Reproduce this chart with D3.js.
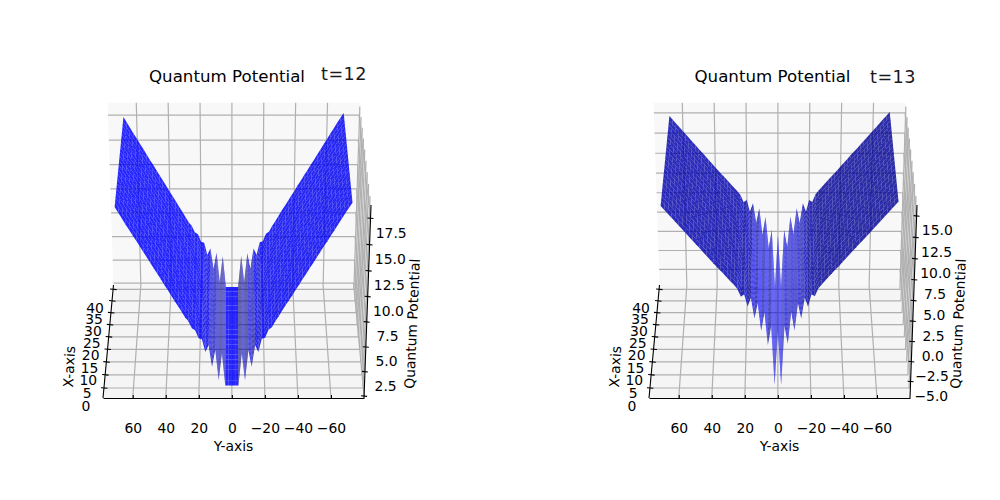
<!DOCTYPE html>
<html>
<head>
<meta charset="utf-8">
<script src="https://cdnjs.cloudflare.com/ajax/libs/d3/7.8.5/d3.min.js"></script>
<style>
html,body{margin:0;padding:0;background:#fff}
svg{display:block}
text{font-family:"DejaVu Sans",sans-serif;fill:#000}
</style>
</head>
<body>
<svg id="fig" width="1000" height="500"></svg>
<script>
// Surface samples: potential against Y at a fixed step, constant along X.
const yGrid = [68,66,64,62,60,58,56,54,52,50,48,46,44,42,40,38,36,34,32,30,28,26,24,22,20,18,16,14,12,10,8,6,4,2,0,
  -2,-4,-6,-8,-10,-12,-14,-16,-18,-20,-22,-24,-26,-28,-30,-32,-34,-36,-38,-40,-42,-44,-46,-48,-50,-52,-54,-56,-58,-60,-62,-64,-66,-68,-70];
const xGrid = [0,2,4,6,8,10,12,14,16,18,20,22,24,26,28,30,32,34,36,38,40];

const potentialT12 = [17.7,17.15,16.6,16.05,15.55,15.0,14.5,13.95,13.4,12.9,12.35,11.8,11.3,10.75,10.2,9.7,9.15,8.6,8.1,7.55,7.0,6.6,5.9,5.7,4.9,4.8,3.5,4.2,2.0,3.75,0.6,3.4,0.05,0.05,0.05,
  0.05,0.05,3.4,0.6,3.7,2.0,4.2,3.5,4.85,4.95,5.75,6.0,6.6,7.1,7.65,8.2,8.7,9.2,9.75,10.25,10.8,11.3,11.85,12.35,12.9,13.4,13.95,14.45,15.0,15.5,16.05,16.55,17.1,17.6,18.1];
const potentialT13 = [15.1,14.65,14.2,13.75,13.3,12.85,12.4,11.95,11.5,11.05,10.6,10.15,9.7,9.25,8.8,8.35,7.9,7.5,7.05,6.6,6.15,5.75,5.25,4.3,4.6,3.1,4.2,1.65,3.55,0.1,2.45,-1.65,0.75,-6.7,0.1,
  -6.7,0.75,-1.5,2.5,0.15,3.55,1.65,4.2,3.1,4.6,4.35,5.3,5.8,6.25,6.7,7.15,7.6,8.0,8.45,8.9,9.35,9.8,10.25,10.7,11.1,11.55,12.0,12.45,12.9,13.35,13.8,14.25,14.7,15.15,15.6];

const xTicks = [0,5,10,15,20,25,30,35,40];
const yTicks = [60,40,20,0,-20,-40,-60];
const zTicksT12 = [0,2.5,5,7.5,10,12.5,15,17.5];
const zLabelsT12 = [2.5,5,7.5,10,12.5,15,17.5];
const zTicksT13 = [-5,-2.5,0,2.5,5,7.5,10,12.5,15];
const zLabelsT13 = zTicksT13;

const svg = d3.select("#fig");

// Box coordinates (depth 0..1, height 0..1) and the perspective of the view.
const depth = d3.scaleLinear().domain([-3.74,41.9]).range([0,1]);
const frontY = d3.scaleLinear().domain([78,-80]).range([103,364]);
const midX = 233.5, floorPx = 398;

function projector(height){
  const pt = (u,sx,w)=>{
    const d = 1 + 0.0875*u - 0.051*w;
    return [midX + (sx-midX)/d, (floorPx - 88.1*u - 203.5*w)/d];
  };
  return {
    data:(x,y,z)=>pt(depth(x),frontY(y),height(z)),
    box:pt
  };
}

const tickFmt = d3.format(".1f");
const pathOf = d3.line();

function drawPanel(cfg){
  const g = svg.append("g").attr("transform",`translate(${cfg.dx},0)`);
  const height = d3.scaleLinear().domain(cfg.zDomain).range([0,1]);
  const P = projector(height);
  const L = frontY(78), R = frontY(-80);
  const poly = pts => pathOf(pts)+"Z";

  // panes
  g.append("path").attr("d",poly([P.box(1,L,0),P.box(1,R,0),P.box(1,R,1),P.box(1,L,1)])).attr("fill","#f8f8f8");
  g.append("path").attr("d",poly([P.box(0,L,0),P.box(0,R,0),P.box(1,R,0),P.box(1,L,0)])).attr("fill","#f5f5f5");
  g.append("path").attr("d",poly([P.box(0,R,0),P.box(1,R,0),P.box(1,R,1),P.box(0,R,1)])).attr("fill","#f2f2f2");

  // grid lines on the three panes
  const grid = g.append("g").attr("fill","none").attr("stroke","#b0b0b0").attr("stroke-width",1.2);
  yTicks.forEach(t=>{
    const s = frontY(t);
    grid.append("path").attr("d",pathOf([P.box(0,s,0),P.box(1,s,0),P.box(1,s,1)]));
  });
  xTicks.forEach(t=>{
    const u = depth(t);
    grid.append("path").attr("d",pathOf([P.box(u,L,0),P.box(u,R,0),P.box(u,R,1)]));
  });
  cfg.zTicks.forEach(t=>{
    const w = height(t);
    grid.append("path").attr("d",pathOf([P.box(1,L,w),P.box(1,R,w),P.box(0,R,w)]));
  });

  // surface quads, far rows first
  const bright = d3.scaleLinear().domain(cfg.slopeIn).range(cfg.brightOut).clamp(true);
  const alpha = d3.scaleLinear().domain([0.3,1.5]).range([cfg.alphaFlat,cfg.alphaSteep]).clamp(true);
  const surf = g.append("g").attr("stroke","none");
  for(let r=xGrid.length-2;r>=0;r--){
    for(let c=0;c<yGrid.length-1;c++){
      const y0=yGrid[c], y1=yGrid[c+1], z0=cfg.z[c], z1=cfg.z[c+1];
      const slope=(z1-z0)/(y0-y1);
      const b=bright(slope);
      surf.append("path")
        .attr("d",poly([P.data(xGrid[r],y0,z0),P.data(xGrid[r],y1,z1),P.data(xGrid[r+1],y1,z1),P.data(xGrid[r+1],y0,z0)]))
        .attr("fill",`rgb(0,0,${Math.round(255*b)})`)
        .attr("fill-opacity",alpha(Math.abs(slope)));
    }
  }

  // Y axis sits on the front edge of the floor
  g.append("g").attr("transform",`translate(0,${floorPx})`)
    .call(d3.axisBottom(frontY).tickValues(yTicks).tickSizeOuter(0).tickSizeInner(-3).tickPadding(25).tickFormat(d3.format("d")))
    .call(a=>a.selectAll("text").attr("font-size",13.9).style("font-family",'"DejaVu Sans"'))
    .call(a=>a.selectAll("path,line").attr("stroke","#000").attr("stroke-width",1.1));

  // X axis along the left edge of the floor
  const axes = g.append("g").attr("stroke","#000").attr("stroke-width",1.1).attr("fill","none");
  axes.append("path").attr("d",pathOf([P.box(0,L,0),P.box(1,L,0)]));
  xTicks.forEach(t=>{
    const [px,py]=P.box(depth(t),L,0);
    axes.append("path").attr("d",pathOf([[px-3,py-0.3],[px+3.5,py+0.3]]));
    g.append("text").attr("x",px-18).attr("y",py+18.5).attr("dy","0.35em")
      .attr("text-anchor","middle").attr("font-size",13.9).text(t);
  });

  // Z axis up the near right corner
  axes.append("path").attr("d",pathOf([P.box(0,R,0),P.box(0,R,1)]));
  cfg.zTicks.forEach(t=>{
    const [px,py]=P.box(0,R,height(t));
    axes.append("path").attr("d",pathOf([[px-3,py-0.3],[px+3,py+0.3]]));
  });
  cfg.zLabels.forEach(t=>{
    const [px,py]=P.box(0,R,height(t));
    g.append("text").attr("x",px+20.7).attr("y",py+14.5).attr("dy","0.35em")
      .attr("text-anchor","middle").attr("font-size",13.9).text(tickFmt(t).replace("-","\u2212"));
  });

  // axis titles
  g.append("text").attr("x",233.5).attr("y",451).attr("text-anchor","middle").attr("font-size",13.9).text("Y-axis");
  g.append("text").attr("transform","translate(74,367) rotate(-87)").attr("text-anchor","middle").attr("font-size",13.9).text("X-axis");
  g.append("text").attr("transform","translate(417,324) rotate(-87.5)").attr("text-anchor","middle").attr("font-size",13.9).text("Quantum Potential");
  g.append("text").attr("x",cfg.titleX).attr("y",82).attr("text-anchor","middle").attr("font-size",16.67).text("Quantum Potential");
  g.append("text").attr("x",cfg.stampX).attr("y",cfg.stampY).attr("text-anchor","middle").attr("font-size",17.6)
    .attr("letter-spacing",0.5).style("fill","#1a1a1a").text(cfg.stamp);
}

drawPanel({dx:0,z:potentialT12,zDomain:[-0.2,18.74],zTicks:zTicksT12,zLabels:zLabelsT12,titleX:227,
  slopeIn:[-1.7,-0.27,0,0.27,1.7],brightOut:[0.75,1,1,0.95,0.42],alphaFlat:0.84,alphaSteep:0.72,
  stamp:"t=12",stampX:344,stampY:80});
drawPanel({dx:546,z:potentialT13,zDomain:[-7.09,16.26],zTicks:zTicksT13,zLabels:zLabelsT13,titleX:226.5,
  slopeIn:[-1.7,-0.25,0,0.25,1.7],brightOut:[1,0.68,0.65,0.58,0.72],alphaFlat:0.82,alphaSteep:0.76,
  stamp:"t=13",stampX:347,stampY:83});
</script>
</body>
</html>
